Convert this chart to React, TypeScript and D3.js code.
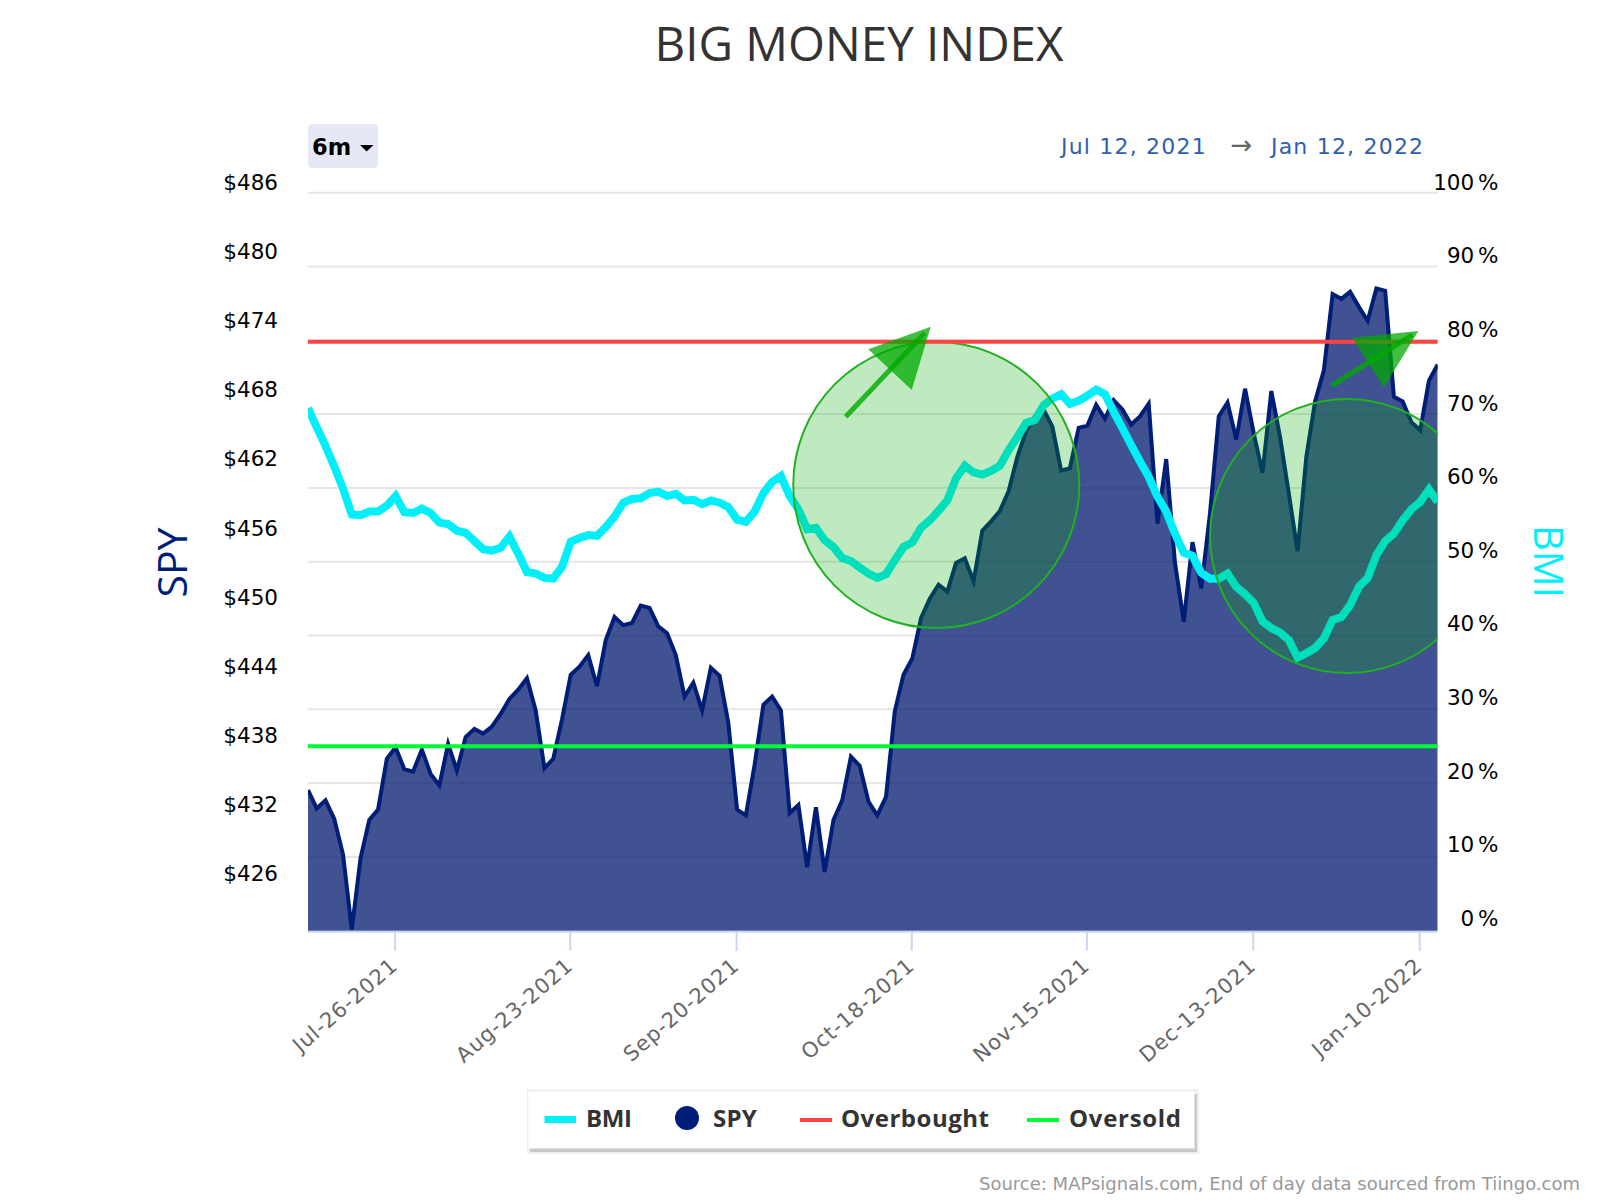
import { area, axisBottom, axisLeft, axisRight, line, scaleLinear, select } from 'd3'
import { useEffect, useRef } from 'react'

const spyValues = [
  434.2, 432.6, 433.3, 431.7, 428.6, 422.1, 428.3, 431.6, 432.5, 436.9,
  437.9, 436.0, 435.8, 437.7, 435.6, 434.6, 438.2, 435.9, 438.8, 439.5,
  439.1, 439.7, 440.8, 442.1, 442.9, 443.9, 441.1, 436.1, 436.9, 440.3,
  444.2, 444.9, 445.9, 443.2, 447.2, 449.2, 448.5, 448.7, 450.2, 450.0,
  448.4, 447.8, 445.9, 442.3, 443.5, 441.1, 444.8, 444.1, 440.0, 432.5,
  432.0, 436.4, 441.6, 442.3, 441.1, 432.2, 432.9, 427.5, 432.7, 427.1,
  431.6, 433.3, 437.1, 436.3, 433.2, 432.0, 433.6, 441.0, 444.2, 445.6,
  449.1, 450.8, 452.0, 451.4, 453.9, 454.3, 452.3, 456.7, 457.5, 458.4,
  460.1, 463.1, 465.3, 466.6, 467.2, 465.7, 461.9, 462.1, 465.6, 465.8,
  467.6, 466.4, 468.0, 467.2, 465.9, 466.6, 467.7, 457.3, 462.9, 453.9,
  448.8, 455.7, 451.7, 458.2, 466.6, 467.8, 464.6, 469.0, 465.1, 461.7,
  468.8, 464.8, 459.9, 454.9, 463.1, 467.9, 470.6, 477.2, 476.8, 477.4,
  476.1, 474.9, 477.7, 477.5, 468.3, 467.9, 466.1, 465.4, 469.7, 471.1,
]

const bmiValues = [
  70.8, 68.2, 65.7, 62.9, 59.9, 56.4, 56.3, 56.8, 56.8, 57.6,
  58.9, 56.7, 56.6, 57.2, 56.6, 55.3, 55.1, 54.2, 53.9, 52.8,
  51.7, 51.5, 51.9, 53.4, 51.1, 48.6, 48.4, 47.8, 47.7, 49.3,
  52.7, 53.2, 53.6, 53.5, 54.7, 56.1, 58.0, 58.5, 58.6, 59.3,
  59.5, 58.9, 59.2, 58.3, 58.4, 57.8, 58.3, 58.0, 57.4, 55.7,
  55.4, 56.8, 59.3, 60.8, 61.6, 58.9, 57.1, 54.4, 54.6, 52.9,
  52.0, 50.5, 50.1, 49.2, 48.4, 47.8, 48.3, 50.2, 52.0, 52.6,
  54.6, 55.6, 56.9, 58.3, 61.3, 63.0, 62.1, 61.8, 62.3, 63.0,
  65.1, 66.9, 68.8, 69.2, 71.2, 72.1, 72.7, 71.4, 71.8, 72.5,
  73.3, 72.7, 70.3, 68.1, 65.8, 63.6, 61.5, 58.8, 56.8, 53.8,
  51.2, 50.8, 48.5, 47.7, 47.7, 48.4, 46.6, 45.6, 44.4, 41.9,
  41.0, 40.4, 39.4, 37.0, 37.6, 38.3, 39.6, 42.1, 42.5, 44.1,
  46.6, 47.8, 50.9, 52.8, 53.8, 55.6, 57.1, 58.1, 59.8, 58.1,
]

const dateTickDays = [10, 30, 49, 69, 89, 108, 127]
const dateTickLabels = ['Jul-26-2021', 'Aug-23-2021', 'Sep-20-2021', 'Oct-18-2021', 'Nov-15-2021', 'Dec-13-2021', 'Jan-10-2022']
const spyTicks = [426, 432, 438, 444, 450, 456, 462, 468, 474, 480, 486]
const bmiTicks = [0, 10, 20, 30, 40, 50, 60, 70, 80, 90, 100]
const overbought = 79.8
const oversold = 25

// annotations in day / BMI units
const circleDays = [71.74, 118.65]
const circleBmi = [60.39, 53.48]
const circleRadius = [143, 137]
const arrowTails = [[61.4, 69.65], [116.9, 73.85]]
const arrowTips = [[71.11, 81.84], [126.79, 81.26]]
const arrowWingsA = [[63.98, 78.78], [119.25, 80.35]]
const arrowWingsB = [[68.94, 73.27], [122.87, 73.63]]

const navy = '#001e78'
const cyan = '#00f0fa'
const red = '#ff4444'
const green = '#00ff33'
const labelFont = '"DejaVu Sans", sans-serif'
const headFont = '"Open Sans", sans-serif'

const left = 308
const right = 1437.7
const top = 192.7
const bottom = 930.7

export default function App() {
  const svgRef = useRef<SVGSVGElement | null>(null)

  useEffect(() => {
    if (!svgRef.current) return
    const svg = select(svgRef.current)
    svg.selectAll('*').remove()

    const xScale = scaleLinear().domain([0, spyValues.length - 1]).range([left, right])
    const spyScale = scaleLinear().domain([422, 486]).range([bottom, top])
    const bmiScale = scaleLinear().domain([0, 100]).range([bottom, top])

    svg.append('defs').append('clipPath').attr('id', 'plot-clip')
      .append('rect').attr('x', left).attr('y', top - 5).attr('width', right - left).attr('height', bottom - top + 5)

    // title and range selector
    svg.append('text').attr('x', 859).attr('y', 61).attr('text-anchor', 'middle')
      .attr('font-family', headFont).attr('font-size', 47.5).attr('fill', '#333').text('BIG MONEY INDEX')

    svg.append('rect').attr('x', 308).attr('y', 124).attr('width', 70).attr('height', 44).attr('rx', 4).attr('fill', '#e6e9f5')
    svg.append('text').attr('x', 312).attr('y', 154.5).attr('font-family', labelFont).attr('font-weight', 'bold')
      .attr('font-size', 22.5).attr('fill', '#000').text('6m')
    svg.append('path').attr('d', 'M360,145L373.5,145L366.7,151.5Z').attr('fill', '#000')

    const dateRange = svg.append('g').attr('font-family', labelFont).attr('font-size', 22).attr('letter-spacing', 1.2)
    dateRange.append('text').attr('x', 1061).attr('y', 153.5).attr('fill', '#2f5eae').text('Jul 12, 2021')
    dateRange.append('text').attr('x', 1242).attr('y', 153.5).attr('text-anchor', 'middle').attr('font-size', 26).attr('fill', '#666').text('→')
    dateRange.append('text').attr('x', 1271).attr('y', 153.5).attr('fill', '#2f5eae').text('Jan 12, 2022')

    // grid
    svg.append('g').selectAll('line').data(bmiTicks.slice(1)).join('line')
      .attr('x1', left).attr('x2', right)
      .attr('y1', d => bmiScale(d)).attr('y2', d => bmiScale(d))
      .attr('stroke', '#e6e6e6').attr('stroke-width', 2)

    // x axis
    const xAxis = axisBottom(xScale)
      .tickValues(dateTickDays)
      .tickFormat((_, ix) => dateTickLabels[ix])
      .tickSizeInner(20)
      .tickSizeOuter(0)
    const xGroup = svg.append('g').attr('transform', `translate(-1, ${bottom})`).call(xAxis)
    xGroup.select('.domain').attr('stroke', '#ccd6eb').attr('stroke-width', 3)
    xGroup.selectAll('.tick line').attr('stroke', '#ccd6eb').attr('stroke-width', 2)
    xGroup.selectAll<SVGTextElement, number>('.tick text')
      .attr('font-family', labelFont).attr('font-size', 21).attr('fill', '#666').attr('letter-spacing', 0.9)
      .attr('text-anchor', 'end').attr('dy', 0).attr('y', 0)
      .attr('transform', 'translate(4, 37) rotate(-41)')

    // y axes
    const spyAxis = axisLeft(spyScale).tickValues(spyTicks).tickFormat(d => `$${d}`).tickSize(0).tickPadding(0)
    const spyGroup = svg.append('g').attr('transform', 'translate(278, 0)').call(spyAxis)
    spyGroup.select('.domain').remove()
    spyGroup.selectAll<SVGTextElement, number>('text')
      .attr('font-family', labelFont).attr('font-size', 21.5).attr('fill', '#000')
      .attr('dy', d => -3 - (486 - d) * 0.02)

    const bmiAxis = axisRight(bmiScale).tickValues(bmiTicks).tickFormat(d => `${d} %`).tickSize(0).tickPadding(0)
    const bmiGroup = svg.append('g').attr('transform', 'translate(1498.5, 0)').call(bmiAxis)
    bmiGroup.select('.domain').remove()
    bmiGroup.selectAll<SVGTextElement, number>('text')
      .attr('font-family', labelFont).attr('font-size', 21.5).attr('fill', '#000').attr('word-spacing', -3)
      .attr('text-anchor', 'end').attr('dy', d => -3.5 - (100 - d) * 0.02)

    svg.append('text').attr('transform', 'translate(187, 562.5) rotate(-90)').attr('text-anchor', 'middle')
      .attr('font-family', headFont).attr('font-size', 41).attr('fill', navy).text('SPY')
    svg.append('text').attr('transform', 'translate(1534, 561.5) rotate(90)').attr('text-anchor', 'middle')
      .attr('font-family', headFont).attr('font-size', 40).attr('fill', cyan).text('BMI')

    // series
    const plot = svg.append('g').attr('clip-path', 'url(#plot-clip)')
    const spyArea = area<number>().x((_, ix) => xScale(ix)).y0(bottom).y1(d => spyScale(d))
    const spyLine = line<number>().x((_, ix) => xScale(ix)).y(d => spyScale(d))
    const bmiLine = line<number>().x((_, ix) => xScale(ix)).y(d => bmiScale(d))

    plot.append('path').attr('d', spyArea(spyValues)).attr('fill', '#00186e').attr('fill-opacity', 0.75)
    plot.append('path').attr('d', spyLine(spyValues)).attr('fill', 'none').attr('stroke', navy).attr('stroke-width', 4)
    plot.append('path').attr('d', bmiLine(bmiValues)).attr('fill', 'none').attr('stroke', cyan).attr('stroke-width', 8)

    plot.selectAll('circle').data(circleDays).join('circle')
      .attr('cx', d => xScale(d))
      .attr('cy', (_, ix) => bmiScale(circleBmi[ix]))
      .attr('r', (_, ix) => circleRadius[ix])
      .attr('fill', '#00aa00').attr('fill-opacity', 0.25)
      .attr('stroke', '#22b022').attr('stroke-width', 2)

    svg.append('g').selectAll('line').data([overbought, oversold]).join('line')
      .attr('x1', left).attr('x2', right)
      .attr('y1', d => bmiScale(d)).attr('y2', d => bmiScale(d))
      .attr('stroke', (_, ix) => (ix === 0 ? red : green)).attr('stroke-width', 4)

    // arrows, the shaft stops just short of the tip
    const arrows = svg.append('g')
    arrowTips.forEach((tip, ix) => {
      const pt = (p: number[]) => `${xScale(p[0])},${bmiScale(p[1])}`
      const tail = arrowTails[ix]
      arrows.append('line')
        .attr('x1', xScale(tail[0])).attr('y1', bmiScale(tail[1]))
        .attr('x2', xScale(tail[0] + (tip[0] - tail[0]) * 0.93)).attr('y2', bmiScale(tail[1] + (tip[1] - tail[1]) * 0.93))
        .attr('stroke', '#00aa00').attr('stroke-opacity', 0.8).attr('stroke-width', 5)
      arrows.append('polygon')
        .attr('points', [pt(tip), pt(arrowWingsA[ix]), pt(arrowWingsB[ix])].join(' '))
        .attr('fill', '#00aa00').attr('fill-opacity', 0.75)
    })

    // legend
    const legend = svg.append('g')
    legend.append('rect').attr('x', 527).attr('y', 1089).attr('width', 672).attr('height', 65).attr('fill', '#f0f0f0')
    legend.append('rect').attr('x', 530).attr('y', 1094).attr('width', 667).attr('height', 58).attr('fill', '#c8c8c8')
    legend.append('rect').attr('x', 528.5).attr('y', 1091.5).attr('width', 666).attr('height', 57).attr('fill', '#fff')
    legend.append('rect').attr('x', 544.5).attr('y', 1116).attr('width', 31.5).attr('height', 7).attr('fill', cyan)
    legend.append('circle').attr('cx', 687).attr('cy', 1118).attr('r', 12).attr('fill', navy)
    legend.append('rect').attr('x', 800).attr('y', 1118).attr('width', 32).attr('height', 4).attr('fill', red)
    legend.append('rect').attr('x', 1027).attr('y', 1118).attr('width', 32).attr('height', 4).attr('fill', green)
    const legendLabels = ['BMI', 'SPY', 'Overbought', 'Oversold']
    const legendX = [586, 713, 841, 1069]
    const legendSpacing = [-0.4, 0.2, 0.5, 0.7]
    legend.selectAll('text').data(legendLabels).join('text')
      .attr('x', (_, ix) => legendX[ix]).attr('y', 1127)
      .attr('font-family', headFont).attr('font-weight', 'bold').attr('font-size', 24).attr('fill', '#333')
      .attr('letter-spacing', (_, ix) => legendSpacing[ix])
      .text(d => d)

    svg.append('text').attr('x', 1580).attr('y', 1190).attr('text-anchor', 'end')
      .attr('font-family', labelFont).attr('font-size', 18).attr('fill', '#999')
      .text('Source: MAPsignals.com, End of day data sourced from Tiingo.com')
  }, [])

  return (
    <svg
      ref={svgRef}
      width={1600}
      height={1200}
      style={{ position: 'absolute', left: 0, top: 0, display: 'block', background: '#fff' }}
    />
  )
}
